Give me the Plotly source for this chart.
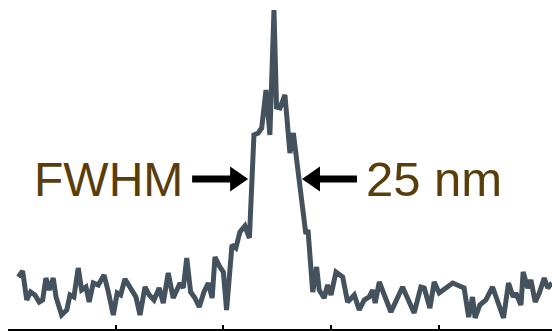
import plotly.graph_objects as go

# Lateral line profile across the feature
position_nm = [
    4.8, 6.8, 8.7, 10.5, 12.5, 14.5, 16.1, 17.6, 19.2, 21.0,
    22.3, 24.9, 27.3, 28.8, 30.6, 32.6, 34.2, 36.2, 37.7, 39.6,
    41.9, 44.6, 46.6, 48.9, 50.7, 52.3, 54.3, 56.6, 59.4, 61.3,
    63.6, 65.6, 67.8, 70.2, 72.1, 74.4, 76.7, 79.9, 81.4, 83.0,
    84.8, 86.8, 88.8, 91.0, 93.0, 94.8, 96.1, 98.4, 100.0, 101.5,
    104.0, 105.8, 107.7, 110.0, 112.1, 114.2, 116.2, 117.8, 119.8, 121.6,
    123.5, 124.7, 126.3, 128.6, 130.9, 132.5, 137.4, 138.3, 139.3, 141.5,
    143.3, 144.5, 146.8, 148.4, 150.0, 152.3, 155.4, 157.7, 160.8, 163.1,
    165.4, 167.7, 169.3, 170.5, 172.4, 177.8, 183.2, 186.0, 188.6, 191.7,
    193.3, 195.9, 197.9, 200.2, 206.5, 211.8, 213.9, 215.7, 216.9, 219.1,
    221.9, 225.0, 227.8, 230.1, 232.4, 234.6, 235.8, 238.2, 239.2, 241.3,
    242.8, 244.8, 246.7, 249.0, 250.6, 252.6,
]
intensity_counts = [
    52, 58, 29, 37, 34, 27, 29, 51, 39, 51,
    32, 14, 19, 34, 32, 61, 39, 42, 27, 46,
    44, 54, 37, 14, 36, 34, 50, 41, 32, 14,
    42, 34, 29, 41, 26, 56, 31, 46, 41, 71,
    37, 31, 22, 37, 46, 31, 72, 62, 57, 19,
    84, 81, 97, 103, 91, 194, 196, 201, 239, 194,
    319, 222, 221, 234, 176, 196, 117, 95, 99, 37,
    62, 39, 31, 44, 34, 57, 52, 27, 34, 19,
    29, 32, 39, 26, 47, 17, 42, 29, 16, 42,
    41, 21, 47, 36, 46, 41, 12, 32, 11, 24,
    29, 42, 24, 11, 46, 32, 36, 24, 57, 41,
    49, 27, 36, 51, 41, 46,
]
tick_positions_nm = [50, 100, 150, 200]

fwhm_nm = 25
peak_center_nm = 124.0
half_max_level = 150
fwhm_label = "FWHM"
width_label = f"{fwhm_nm} nm"

LINE_COLOR = "#44525e"
TEXT_COLOR = "#5a3e0a"
FONT = "Liberation Sans, Arial, sans-serif"

fig = go.Figure()
fig.add_trace(go.Scatter(
    x=position_nm, y=intensity_counts, mode="lines",
    line=dict(color=LINE_COLOR, width=5),
    hoverinfo="skip", showlegend=False,
))

left_tip = peak_center_nm - fwhm_nm / 2
right_tip = peak_center_nm + fwhm_nm / 2

# Arrows sized in pixels, anchored at the half-maximum crossings
arrow_left = "M0,0 L-18,12.5 L-18,3.5 L-56,3.5 L-56,-3.5 L-18,-3.5 L-18,-12.5 Z"
arrow_right = "M0,0 L18,12.5 L18,3.5 L55,3.5 L55,-3.5 L18,-3.5 L18,-12.5 Z"
for tip, path in ((left_tip, arrow_left), (right_tip, arrow_right)):
    fig.add_shape(
        type="path", path=path, xref="x", yref="y",
        xsizemode="pixel", ysizemode="pixel",
        xanchor=tip, yanchor=half_max_level,
        fillcolor="black", line=dict(width=0),
    )

fig.add_annotation(
    x=left_tip, y=half_max_level, text=fwhm_label, showarrow=False,
    xanchor="right", yanchor="middle", xshift=-63,
    font=dict(family=FONT, size=48, color=TEXT_COLOR),
)
fig.add_annotation(
    x=right_tip, y=half_max_level, text=width_label, showarrow=False,
    xanchor="left", yanchor="middle", xshift=62,
    font=dict(family=FONT, size=49, color=TEXT_COLOR),
)

fig.update_layout(
    width=552, height=331,
    margin=dict(l=8, r=0, t=0, b=2, pad=0),
    paper_bgcolor="white", plot_bgcolor="white",
    xaxis=dict(
        range=[0, 252.6], showgrid=False, zeroline=False,
        showline=True, linecolor="black", linewidth=2,
        ticks="inside", ticklen=4, tickwidth=2, tickcolor="black",
        tickmode="array", tickvals=tick_positions_nm, showticklabels=False,
        fixedrange=True,
    ),
    yaxis=dict(range=[0, 329], visible=False, fixedrange=True),
)

fig.write_html("out.html", config={"displayModeBar": False})
